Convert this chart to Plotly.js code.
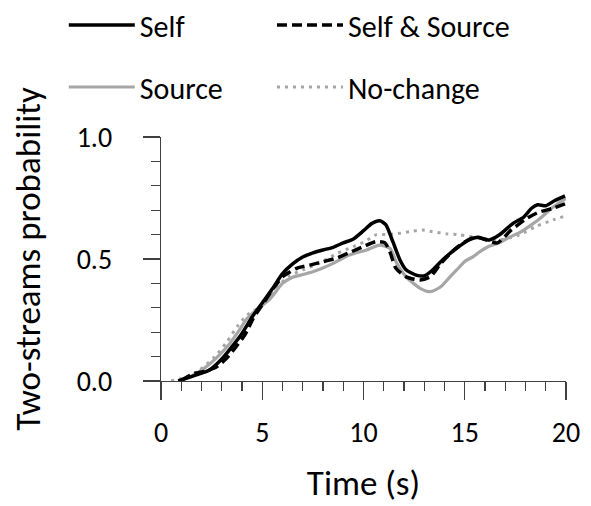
<!DOCTYPE html>
<html>
<head>
<meta charset="utf-8">
<script src="https://cdn.plot.ly/plotly-3.0.1.min.js"></script>
<style>html,body{margin:0;padding:0;background:#fff;}#chart{width:591px;height:506px;}</style>
</head>
<body>
<div id="chart"></div>
<script>
// Data
const seriesNames = ["Self", "Self & Source", "Source", "No-change"];

const selfT = [0.85, 1.5, 2.1, 2.4, 3.0, 3.5, 4.0, 4.5, 5.0, 5.5, 6.0, 6.5, 7.0, 7.5, 8.0, 8.5, 9.0, 9.5, 10.0, 10.4, 10.8, 11.1, 11.45, 11.8, 12.1, 12.6, 13.0, 13.4, 13.9, 14.6, 15.2, 15.65, 16.2, 16.7, 17.4, 17.9, 18.3, 18.6, 19.0, 19.45, 19.95];
const selfV = [0.0, 0.018, 0.035, 0.045, 0.09, 0.14, 0.195, 0.262, 0.32, 0.378, 0.44, 0.48, 0.508, 0.525, 0.537, 0.548, 0.566, 0.582, 0.616, 0.645, 0.657, 0.641, 0.571, 0.496, 0.456, 0.434, 0.431, 0.454, 0.496, 0.544, 0.578, 0.589, 0.578, 0.598, 0.647, 0.671, 0.708, 0.722, 0.718, 0.740, 0.759];

const bothT = [1.0, 1.6, 2.2, 2.75, 3.2, 3.7, 4.15, 4.55, 5.1, 5.6, 6.0, 6.7, 7.35, 8.0, 8.65, 9.3, 10.0, 10.6, 11.05, 11.3, 11.6, 12.1, 12.8, 13.3, 13.8, 14.5, 15.0, 15.5, 16.0, 16.6, 17.3, 18.0, 18.6, 19.35, 19.95];
const bothV = [0.003, 0.03, 0.04, 0.058, 0.09, 0.14, 0.19, 0.256, 0.325, 0.385, 0.427, 0.462, 0.475, 0.489, 0.503, 0.526, 0.551, 0.571, 0.567, 0.53, 0.462, 0.427, 0.414, 0.427, 0.48, 0.54, 0.57, 0.59, 0.58, 0.566, 0.619, 0.663, 0.69, 0.708, 0.726];

const sourceT = [1.0, 1.5, 2.1, 2.8, 3.4, 3.8, 4.25, 4.7, 5.4, 6.0, 6.5, 6.9, 7.5, 7.9, 8.5, 9.3, 10.15, 10.8, 11.3, 11.65, 12.1, 12.8, 13.3, 13.8, 14.25, 14.6, 15.0, 15.4, 15.75, 16.2, 16.7, 17.1, 17.7, 18.2, 18.7, 19.35, 20.0];
const sourceV = [0.003, 0.02, 0.05, 0.1, 0.154, 0.2, 0.256, 0.29, 0.338, 0.4, 0.425, 0.434, 0.448, 0.46, 0.482, 0.516, 0.537, 0.557, 0.544, 0.482, 0.427, 0.38, 0.366, 0.385, 0.425, 0.455, 0.49, 0.509, 0.53, 0.552, 0.566, 0.585, 0.608, 0.635, 0.665, 0.712, 0.749];

const noChangeT = [0.5, 1.2, 1.9, 2.65, 3.25, 3.75, 4.25, 4.75, 5.3, 5.8, 6.3, 7.0, 7.6, 8.2, 8.7, 9.5, 10.15, 10.6, 11.1, 11.6, 12.3, 12.9, 13.4, 14.1, 14.75, 15.75, 16.7, 17.7, 18.5, 19.35, 20.0];
const noChangeV = [0.0, 0.015, 0.044, 0.099, 0.16, 0.222, 0.27, 0.297, 0.34, 0.39, 0.43, 0.455, 0.475, 0.5, 0.523, 0.551, 0.575, 0.599, 0.6, 0.603, 0.612, 0.619, 0.612, 0.603, 0.599, 0.585, 0.578, 0.599, 0.633, 0.66, 0.677];

const xTickVals = [0, 5, 10, 15, 20];
const xTickText = ["0", "5", "10", "15", "20"];
const yTickVals = [0, 0.5, 1.0];
const yTickText = ["0.0", "0.5", "1.0"];

const FONT = "Carlito, Lato, 'Liberation Sans', sans-serif";
const GRAY = "#a6a6a6";
const AX = "#404040";

const traces = [
  {x: sourceT, y: sourceV, name: seriesNames[2], mode: "lines", legend: "legend3",
   line: {color: GRAY, width: 3.2, shape: "spline", smoothing: 0.6}},
  {x: noChangeT, y: noChangeV, name: seriesNames[3], mode: "lines", legend: "legend4",
   line: {color: GRAY, width: 3, dash: "3px,5px", shape: "spline", smoothing: 0.6}},
  {x: selfT, y: selfV, name: seriesNames[0], mode: "lines", legend: "legend",
   line: {color: "#000", width: 3.5, shape: "spline", smoothing: 0.6}},
  {x: bothT, y: bothV, name: seriesNames[1], mode: "lines", legend: "legend2",
   line: {color: "#000", width: 3.5, dash: "10px,5px", shape: "spline", smoothing: 0.6}}
];

const legendCommon = {
  orientation: "h", xanchor: "left", yanchor: "middle",
  font: {family: FONT, size: 30, color: "#000"},
  itemwidth: 66, bgcolor: "rgba(0,0,0,0)", borderwidth: 0
};
const colLeft = -0.24, colRight = 0.274, rowTop = 1.459, rowBottom = 1.205;

const layout = {
  width: 591, height: 506,
  margin: {l: 161, r: 25, t: 137, b: 125, pad: 0, autoexpand: false},
  paper_bgcolor: "#fff", plot_bgcolor: "#fff",
  font: {family: FONT, color: "#000"},
  showlegend: true,
  legend: Object.assign({}, legendCommon, {x: colLeft, y: rowTop}),
  legend2: Object.assign({}, legendCommon, {x: colRight, y: rowTop}),
  legend3: Object.assign({}, legendCommon, {x: colLeft, y: rowBottom}),
  legend4: Object.assign({}, legendCommon, {x: colRight, y: rowBottom}),
  xaxis: {
    range: [0, 20], autorange: false, fixedrange: true,
    tickmode: "array", tickvals: xTickVals, ticktext: xTickText,
    ticks: "outside", ticklen: 18, tickwidth: 1.3, tickcolor: AX,
    minor: {dtick: 1, ticks: "outside", ticklen: 9, tickwidth: 1.3, tickcolor: AX, showgrid: false},
    showline: true, linecolor: AX, linewidth: 1.3,
    showgrid: false, zeroline: false,
    tickfont: {family: FONT, size: 28, color: "#000"},
    ticklabelstandoff: 8,
    title: {text: "Time (s)", font: {family: FONT, size: 35, color: "#000"}, standoff: 21},
    automargin: false
  },
  yaxis: {
    range: [0, 1], autorange: false, fixedrange: true,
    tickmode: "array", tickvals: yTickVals, ticktext: yTickText,
    ticks: "outside", ticklen: 17, tickwidth: 1.3, tickcolor: AX,
    minor: {dtick: 0.1, ticks: "outside", ticklen: 9, tickwidth: 1.3, tickcolor: AX, showgrid: false},
    showline: true, linecolor: AX, linewidth: 1.3,
    showgrid: false, zeroline: false,
    tickfont: {family: FONT, size: 28, color: "#000"},
    ticklabelstandoff: 25,
    title: {text: "Two-streams probability", font: {family: FONT, size: 35, color: "#000"}, standoff: 25},
    automargin: false
  }
};

Plotly.newPlot("chart", traces, layout, {displayModeBar: false, staticPlot: true});
</script>
</body>
</html>
